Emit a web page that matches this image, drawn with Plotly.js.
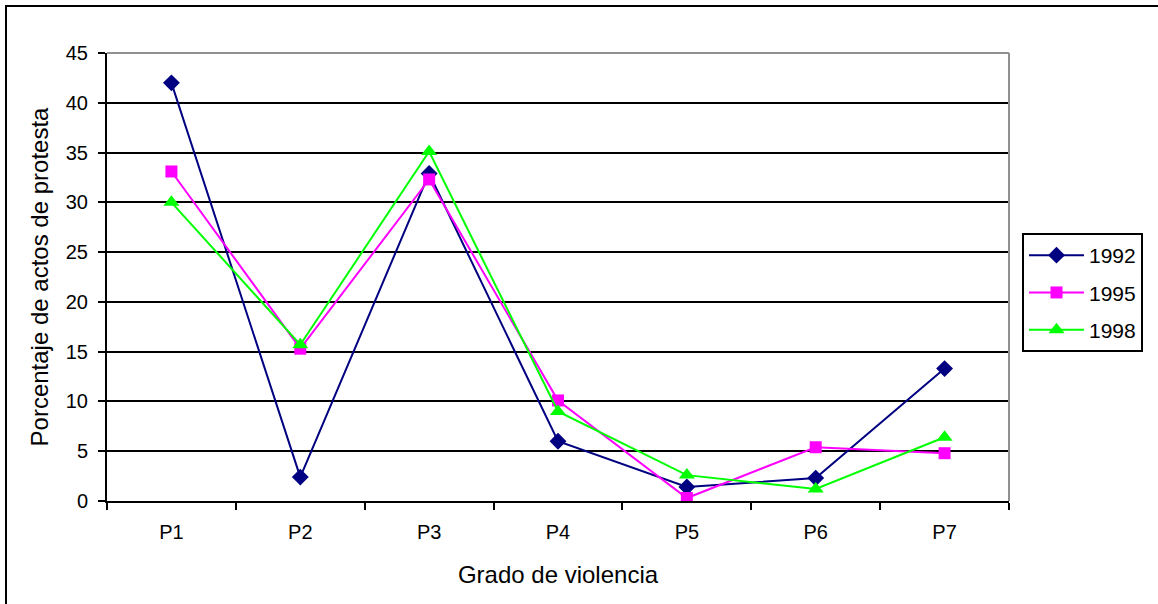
<!DOCTYPE html>
<html>
<head>
<meta charset="utf-8">
<script src="https://cdn.plot.ly/plotly-3.0.1.min.js"></script>
<style>
html,body{margin:0;padding:0;background:#fff;}
#chart{width:1158px;height:604px;}
</style>
</head>
<body>
<div id="chart"></div>
<script>
const categories = ["P1","P2","P3","P4","P5","P6","P7"];
const series1992 = [42.0, 2.4, 32.9, 6.0, 1.4, 2.3, 13.3];
const series1995 = [33.1, 15.3, 32.3, 10.1, 0.3, 5.4, 4.8];
const series1998 = [30.0, 15.7, 35.1, 9.0, 2.6, 1.2, 6.4];
const seriesNames = ["1992","1995","1998"];
const yTicks = [0,5,10,15,20,25,30,35,40,45];

const L = 107, R = 1009, T = 53, B = 501, W = 1158, H = 604;
const pw = R - L, ph = B - T;
const px = v => (v - L) / pw;
const py = v => (B - v) / ph;

const traces = [
  {x: categories, y: series1992, name: seriesNames[0], legendgroup: 'a', type: 'scatter', mode: 'lines+markers',
   line: {color: '#000080', width: 2}, marker: {symbol: 'diamond', size: 13, color: '#000080'}},
  {x: categories, y: series1995, name: seriesNames[1], legendgroup: 'b', type: 'scatter', mode: 'lines+markers',
   line: {color: '#FF00FF', width: 2}, marker: {symbol: 'square', size: 12, color: '#FF00FF'}},
  {x: categories, y: series1998, name: seriesNames[2], legendgroup: 'c', type: 'scatter', mode: 'lines+markers',
   line: {color: '#00FF00', width: 2}, marker: {symbol: 'triangle-up', size: 14, color: '#00FF00'}}
];

const layout = {
  width: W, height: H,
  margin: {l: L, r: W - R, t: T, b: H - B, pad: 0},
  paper_bgcolor: '#fff', plot_bgcolor: '#fff',
  font: {family: 'Liberation Sans, Arial, sans-serif', color: '#000', size: 20},
  showlegend: true,
  legend: {x: px(1022), y: py(233), xanchor: 'left', yanchor: 'top',
           bordercolor: '#000', borderwidth: 2, bgcolor: '#fff',
           font: {size: 21}, tracegroupgap: 7, itemwidth: 55},
  xaxis: {type: 'category', range: [-0.5, 6.5], tickson: 'boundaries',
          ticks: 'outside', ticklen: 7, tickcolor: '#000', tickwidth: 2,
          showline: true, linecolor: '#000', linewidth: 2, showgrid: false, zeroline: false,
          tickfont: {size: 20}, fixedrange: true, ticklabelstandoff: 12,
          title: {text: 'Grado de violencia', font: {size: 24}, standoff: 24}},
  yaxis: {range: [0, 45], tickvals: yTicks, ticks: 'outside', ticklen: 7, tickcolor: '#000', tickwidth: 2,
          showline: true, linecolor: '#000', linewidth: 2,
          showgrid: true, gridcolor: '#000', gridwidth: 2, zeroline: false,
          tickfont: {size: 20}, fixedrange: true, ticklabelstandoff: 6,
          title: {text: 'Porcentaje de actos de protesta', font: {size: 24}, standoff: 10}},
  shapes: [
    {type: 'rect', xref: 'paper', yref: 'paper', x0: px(6), x1: px(1170), y0: py(620), y1: py(6),
     line: {color: '#000', width: 2}, layer: 'below'},
    {type: 'line', xref: 'paper', yref: 'paper', x0: 0, x1: 1, y0: 1, y1: 1,
     line: {color: '#909090', width: 2}},
    {type: 'line', xref: 'paper', yref: 'paper', x0: 1, x1: 1, y0: 0, y1: 1,
     line: {color: '#909090', width: 2}}
  ]
};

Plotly.newPlot('chart', traces, layout, {displayModeBar: false, staticPlot: true});
</script>
</body>
</html>
